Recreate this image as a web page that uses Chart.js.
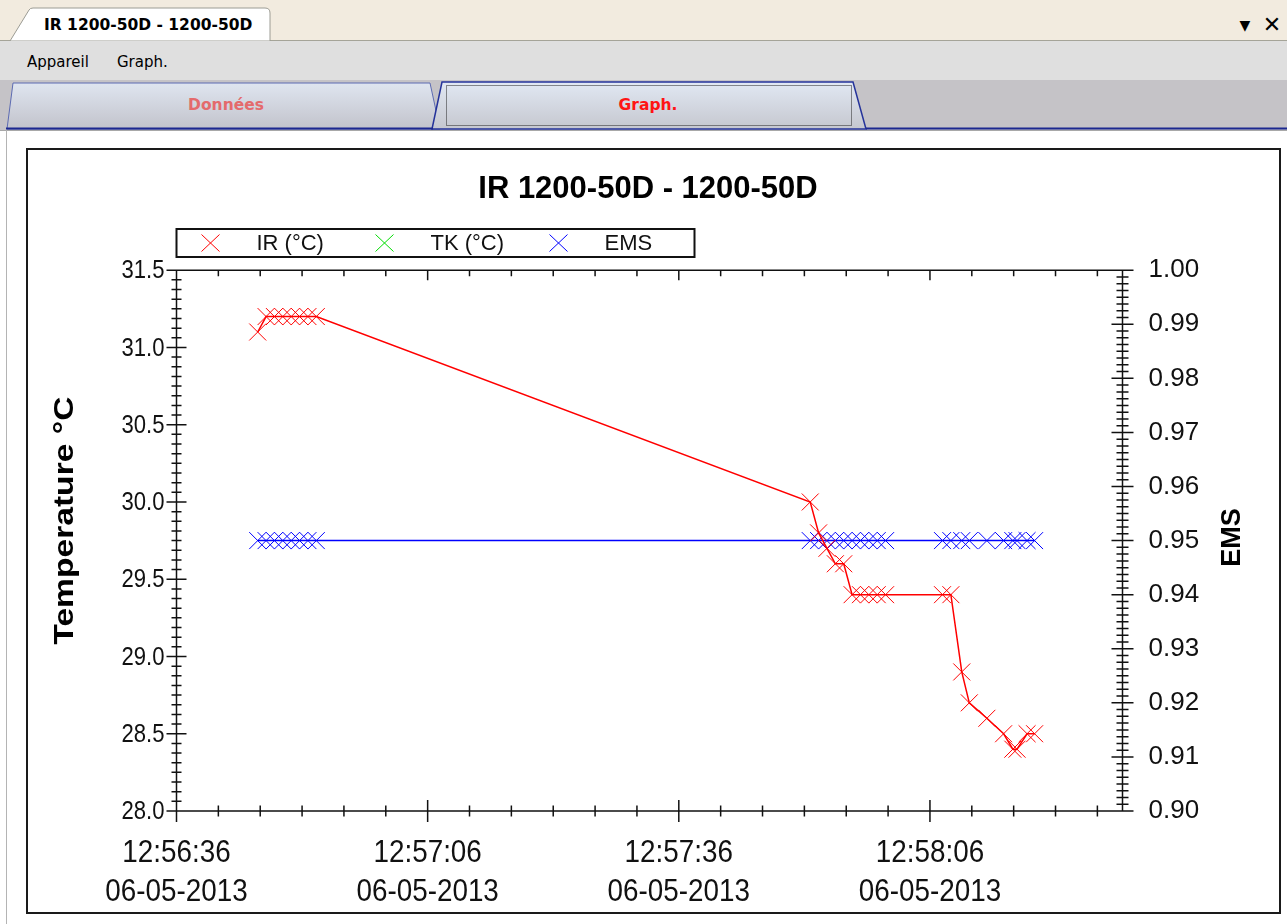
<!DOCTYPE html>
<html>
<head>
<meta charset="utf-8">
<script src="https://cdn.jsdelivr.net/npm/chart.js@4.4.1/dist/chart.umd.min.js"></script>
<style>
  body { margin: 0; width: 1287px; height: 924px; background: #fff; position: relative; overflow: hidden; }
  #chrome { position: absolute; left: 0; top: 0; }
  #frame { position: absolute; left: 26px; top: 148px; width: 1255px; height: 766px; border: 2px solid #1a1a1a; box-sizing: border-box; }
  #myChart { position: absolute; left: 28px; top: 150px; }
</style>
</head>
<body>
<svg id="chrome" width="1287" height="924" font-family="DejaVu Sans, sans-serif">
  <defs>
    <linearGradient id="tabOff" x1="0" y1="0" x2="0" y2="1">
      <stop offset="0" stop-color="#dfe5f0"/><stop offset="1" stop-color="#c2c3cb"/>
    </linearGradient>
    <linearGradient id="tabOn" x1="0" y1="0" x2="0" y2="1">
      <stop offset="0" stop-color="#e1e8f3"/><stop offset="1" stop-color="#c5c7cf"/>
    </linearGradient>
  </defs>
  <rect x="0" y="0" width="1287" height="41" fill="#f2ebdf"/>
  <line x1="0" y1="40.5" x2="1287" y2="40.5" stroke="#a5a498"/>
  <path d="M10,41 L29,10 Q30,8 33,8 L265,8 Q270,8 270,13 L270,41 Z" fill="#fff" stroke="#9c9c94"/>
  <text x="44" y="30" font-size="15.5" font-weight="bold" fill="#000">IR 1200-50D - 1200-50D</text>
  <text x="1245" y="30" font-size="14" text-anchor="middle" fill="#000">▼</text>
  <text x="1272" y="32" font-size="22" text-anchor="middle" fill="#000">✕</text>
  <rect x="0" y="41" width="1287" height="39" fill="#dfdfdf"/>
  <text x="27" y="67" font-size="15" fill="#000">Appareil</text>
  <text x="117" y="67" font-size="15" fill="#000">Graph.</text>
  <rect x="0" y="80" width="1287" height="50" fill="#c5c3c7"/>
  <polygon points="7,129 13,83 430,83 440,129" fill="url(#tabOff)" stroke="#5d6bb2" stroke-width="1"/>
  <text x="226" y="110" font-size="15.5" font-weight="bold" fill="#e46a6c" text-anchor="middle">Données</text>
  <polygon points="432,129 442,82 853,82 866,129" fill="url(#tabOn)" stroke="#25339a" stroke-width="1.5"/>
  <rect x="446.5" y="85.5" width="405" height="40" fill="none" stroke="#222" stroke-dasharray="1,1"/>
  <text x="648" y="110" font-size="15.5" font-weight="bold" fill="#ff1414" text-anchor="middle">Graph.</text>
  <line x1="6" y1="128.5" x2="433" y2="128.5" stroke="#1c2890" stroke-width="2"/>
  <line x1="866" y1="128.5" x2="1287" y2="128.5" stroke="#1c2890" stroke-width="2"/>
  <line x1="0" y1="130.5" x2="1287" y2="130.5" stroke="#a8a8a8"/>
  <line x1="6.5" y1="130" x2="6.5" y2="924" stroke="#b4b4b4"/>
</svg>
<div id="frame"></div>
<canvas id="myChart" width="1251" height="762"></canvas>
<script>
// seconds after 12:56:36 (06-05-2013)
const sampleSeconds = [9.7, 10.7, 11.7, 12.7, 13.7, 14.7, 15.7, 16.7,
  75.7, 76.7, 77.7, 78.7, 79.7, 80.7, 81.7, 82.7, 83.7, 84.7,
  91.5, 92.5, 93.8, 94.7, 96.8, 98.8, 99.9, 100.4, 101.6, 102.5];
const irValues = [31.1, 31.2, 31.2, 31.2, 31.2, 31.2, 31.2, 31.2,
  30.0, 29.8, 29.7, 29.6, 29.6, 29.4, 29.4, 29.4, 29.4, 29.4,
  29.4, 29.4, 28.9, 28.7, 28.6, 28.5, 28.4, 28.4, 28.5, 28.5];
const tkValues = []; // no TK reading in this session
const emsValues = [0.95, 0.95, 0.95, 0.95, 0.95, 0.95, 0.95, 0.95,
  0.95, 0.95, 0.95, 0.95, 0.95, 0.95, 0.95, 0.95, 0.95, 0.95,
  0.95, 0.95, 0.95, 0.95, 0.95, 0.95, 0.95, 0.95, 0.95, 0.95];

const startClock = [12, 56, 36];
const dateLabel = '06-05-2013';
const tempTicks = [28.0, 28.5, 29.0, 29.5, 30.0, 30.5, 31.0, 31.5];
const emsTicks = [0.90, 0.91, 0.92, 0.93, 0.94, 0.95, 0.96, 0.97, 0.98, 0.99, 1.00];
const tempTitle = 'Temperature °C';
const emsTitle = 'EMS';

function clockLabel(sec) {
  const total = startClock[0] * 3600 + startClock[1] * 60 + startClock[2] + sec;
  const p = n => String(Math.floor(n)).padStart(2, '0');
  return p(total / 3600) + ':' + p((total % 3600) / 60) + ':' + p(total % 60);
}

const toPoints = vals => vals.map((v, i) => ({ x: sampleSeconds[i], y: v }));
const font = 'Liberation Sans, Arial, sans-serif';

// axis lines + minor/major tick marks, like the original plot
const axisTicks = {
  id: 'axisTicks',
  afterDraw(chart) {
    const { ctx, chartArea: a, scales: { x, y, y1 } } = chart;
    ctx.save();
    ctx.strokeStyle = '#111';
    ctx.lineWidth = 1.5;
    ctx.beginPath();
    ctx.moveTo(a.left, a.top); ctx.lineTo(a.right, a.top);
    ctx.moveTo(a.left, a.bottom); ctx.lineTo(a.right, a.bottom);
    ctx.moveTo(a.left, a.top); ctx.lineTo(a.left, a.bottom);
    ctx.moveTo(a.right, a.top); ctx.lineTo(a.right, a.bottom);
    for (let i = 0; i * 5 <= x.max; i++) {
      const px = x.getPixelForValue(i * 5);
      const major = i % 6 === 0;
      const h = major ? 11 : 5.5;
      ctx.moveTo(px, a.bottom - h); ctx.lineTo(px, a.bottom + h);
      ctx.moveTo(px, a.top); ctx.lineTo(px, a.top + (major ? 10 : 6));
    }
    const sub = 8;
    for (let i = 0; i <= (tempTicks.length - 1) * sub; i++) {
      const py = y.getPixelForValue(tempTicks[0] + i * 0.5 / sub);
      const h = i % sub === 0 ? 10 : 5;
      ctx.moveTo(a.left - h, py); ctx.lineTo(a.left + h, py);
    }
    for (let i = 0; i <= (emsTicks.length - 1) * sub; i++) {
      const py = y1.getPixelForValue(emsTicks[0] + i * 0.01 / sub);
      const h = i % sub === 0 ? 11 : 6;
      ctx.moveTo(a.right - h, py); ctx.lineTo(a.right + h, py);
    }
    ctx.stroke();
    ctx.restore();
  }
};

// the old plot uses tall, narrow lettering for the time axis and left axis
function drawScaled(ctx, text, x, y, sx, sy, rot) {
  ctx.save();
  ctx.translate(x, y);
  if (rot) ctx.rotate(rot);
  ctx.scale(sx, sy);
  ctx.fillText(text, 0, 0);
  ctx.restore();
}

const tallLabels = {
  id: 'tallLabels',
  afterDraw(chart) {
    const { ctx, chartArea: a, scales: { x, y } } = chart;
    const midY = (a.top + a.bottom) / 2;
    ctx.save();
    ctx.fillStyle = '#111';
    ctx.textBaseline = 'middle';
    ctx.textAlign = 'center';
    ctx.font = '32px ' + font;
    x.ticks.forEach(t => {
      if (t.value % 30 !== 0) return;
      const px = x.getPixelForValue(t.value);
      drawScaled(ctx, clockLabel(t.value), px, a.bottom + 42, 0.87, 1);
      drawScaled(ctx, dateLabel, px, a.bottom + 81, 0.87, 1);
    });
    ctx.textAlign = 'right';
    ctx.font = '26px ' + font;
    y.ticks.forEach(t => {
      drawScaled(ctx, t.value.toFixed(1), a.left - 12, y.getPixelForValue(t.value) + 1, 0.85, 1);
    });
    ctx.textAlign = 'center';
    ctx.fillStyle = '#000';
    ctx.font = 'bold 28px ' + font;
    drawScaled(ctx, tempTitle, 37, midY - 20, 1.2, 1, -Math.PI / 2);
    ctx.font = 'bold 27px ' + font;
    drawScaled(ctx, emsTitle, 1205, midY - 3, 1, 1, -Math.PI / 2);
    ctx.restore();
  }
};

// boxed legend on the left
const legendBox = {
  id: 'legendBox',
  afterDraw(chart) {
    const { ctx, chartArea: a } = chart;
    const top = 79, h = 28, w = 518;
    ctx.save();
    ctx.strokeStyle = '#111';
    ctx.lineWidth = 2;
    ctx.strokeRect(a.left, top, w, h);
    ctx.font = '22px ' + font;
    ctx.textBaseline = 'middle';
    ctx.fillStyle = '#111';
    chart.data.datasets.forEach((ds, i) => {
      const cx = a.left + 34 + i * 174, cy = top + h / 2;
      ctx.strokeStyle = ds.borderColor;
      ctx.lineWidth = 1;
      ctx.beginPath();
      ctx.moveTo(cx - 9, cy - 8.5); ctx.lineTo(cx + 9, cy + 8.5);
      ctx.moveTo(cx + 9, cy - 8.5); ctx.lineTo(cx - 9, cy + 8.5);
      ctx.stroke();
      ctx.fillText(ds.label, cx + 46, cy + 1);
    });
    ctx.restore();
  }
};

const ctx = document.getElementById('myChart');

new Chart(ctx, {
  type: 'line',
  data: {
    datasets: [{
      label: 'IR (°C)',
      data: toPoints(irValues),
      borderColor: '#ff0000',
      yAxisID: 'y'
    }, {
      label: 'TK (°C)',
      data: toPoints(tkValues),
      borderColor: '#00dd00',
      yAxisID: 'y'
    }, {
      label: 'EMS',
      data: toPoints(emsValues),
      borderColor: '#0000ff',
      yAxisID: 'y1'
    }]
  },
  options: {
    responsive: false,
    animation: false,
    layout: { padding: { right: 11 } },
    elements: {
      line: { borderWidth: 1.5, tension: 0, fill: false },
      point: { pointStyle: 'crossRot', radius: 12, borderWidth: 1, hoverRadius: 12 }
    },
    plugins: {
      legend: { display: false },
      tooltip: { enabled: false },
      title: {
        display: true,
        text: 'IR 1200-50D - 1200-50D',
        color: '#000',
        font: { family: font, size: 31, weight: 'bold' },
        padding: { top: 21, bottom: 62 }
      }
    },
    scales: {
      x: {
        type: 'linear',
        min: 0,
        max: 113,
        afterFit: s => { s.height = 101; },
        grid: { display: false, drawTicks: false },
        border: { display: false },
        ticks: { display: false, stepSize: 30, includeBounds: false }
      },
      y: {
        position: 'left',
        min: tempTicks[0],
        max: tempTicks[tempTicks.length - 1],
        afterFit: s => { s.width = 148.5; },
        grid: { display: false, drawTicks: false },
        border: { display: false },
        ticks: { display: false, stepSize: 0.5 }
      },
      y1: {
        position: 'right',
        min: emsTicks[0],
        max: emsTicks[emsTicks.length - 1],
        afterFit: s => { s.width = 145.5; },
        grid: { display: false, drawTicks: false },
        border: { display: false },
        ticks: { stepSize: 0.01, padding: 26, color: '#111', font: { family: font, size: 26 }, callback: v => v.toFixed(2) }
      }
    }
  },
  plugins: [axisTicks, tallLabels, legendBox]
});
</script>
</body>
</html>
